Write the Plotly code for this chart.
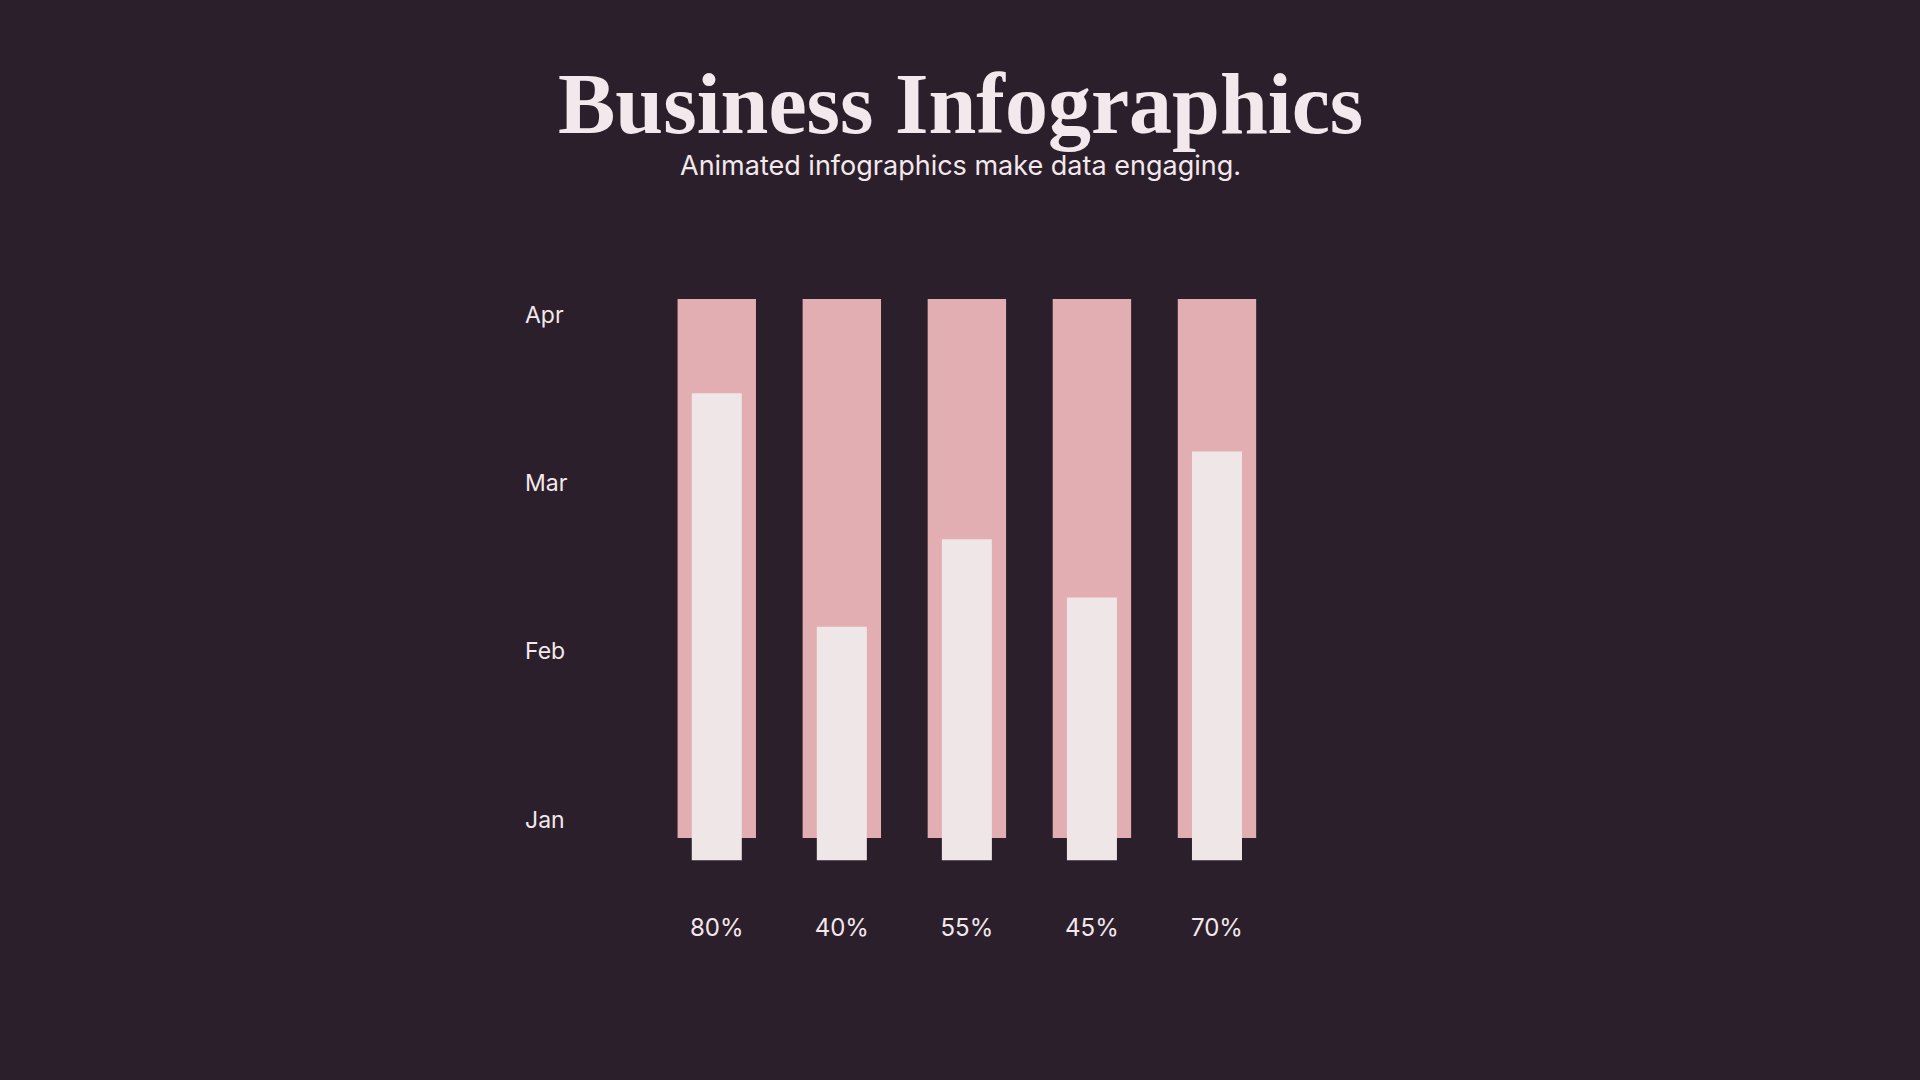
import plotly.graph_objects as go

# ---- data ----
months = ["Jan", "Feb", "Mar", "Apr"]
values = [80, 40, 55, 45, 70]          # percent filled
track = [100, 100, 100, 100, 100]      # full-track (100%)
labels = [f"{v}%" for v in values]

title = "Business Infographics"
subtitle = "Animated infographics make data engaging."

# ---- style ----
BG = "#2b1f2b"
PINK = "#e2aeb2"
WHITE = "#eee6e7"
TEXT = "#f3e8ec"
W, H = 1920, 1080


def py(px):
    return 1 - px / H


fig = go.Figure()

# pink tracks (base y axis)
fig.add_trace(go.Bar(
    x=labels, y=track, width=0.627, xaxis="x", yaxis="y",
    marker=dict(color=PINK, line=dict(width=0)),
    hoverinfo="skip", showlegend=False,
))
# white value bars (overlaying y2, drawn on top)
fig.add_trace(go.Bar(
    x=labels, y=values, width=0.40, xaxis="x", yaxis="y2",
    marker=dict(color=WHITE, line=dict(width=0)),
    hoverinfo="skip", showlegend=False,
))
# carrier trace for the month axis
fig.add_trace(go.Scatter(
    x=[labels[0]] * len(months), y=months, xaxis="x", yaxis="y3",
    mode="markers", marker=dict(size=1, opacity=0), hoverinfo="skip", showlegend=False,
))

fig.update_layout(
    width=W, height=H,
    margin=dict(l=0, r=0, t=0, b=0, pad=0),
    paper_bgcolor=BG, plot_bgcolor=BG,
    barmode="overlay",
    showlegend=False,
    xaxis=dict(
        type="category", categoryorder="array", categoryarray=labels,
        range=[-5.732, 9.622], domain=[0, 1],
        anchor="y", side="bottom", ticks="outside", ticklen=46, tickcolor=BG,
        showgrid=False, zeroline=False, showline=False,
        tickfont=dict(family="Inter", size=24, color=TEXT),
        fixedrange=True,
    ),
    yaxis=dict(
        domain=[py(860.5), py(276.3)], range=[-4.195, 104.23],
        showgrid=False, zeroline=False, showline=False, showticklabels=False,
        ticks="", anchor="x", fixedrange=True,
    ),
    yaxis2=dict(
        overlaying="y", range=[0, 100],
        showgrid=False, zeroline=False, showline=False, showticklabels=False,
        ticks="", anchor="x", fixedrange=True,
    ),
    yaxis3=dict(
        overlaying="y", type="category", categoryorder="array", categoryarray=months,
        range=[-0.2439, 3.2314],
        anchor="free", position=521 / W, side="left", ticklabelposition="inside",
        showgrid=False, zeroline=False, showline=False, ticks="",
        tickfont=dict(family="Inter", size=23, color=TEXT),
        fixedrange=True,
    ),
    annotations=[
        dict(text=f"<b>{title}</b>", x=0.5, y=py(104), xref="paper", yref="paper",
             xanchor="center", yanchor="middle", showarrow=False,
             font=dict(family="Liberation Serif", size=86, color=TEXT)),
        dict(text=subtitle, x=0.5, y=py(166), xref="paper", yref="paper",
             xanchor="center", yanchor="middle", showarrow=False,
             font=dict(family="Inter", size=27, color=TEXT)),
    ],
)

fig.write_html(
    "out.html",
    config={"displayModeBar": False},
    post_script="document.body.style.margin='0';document.body.style.overflow='hidden';",
)
